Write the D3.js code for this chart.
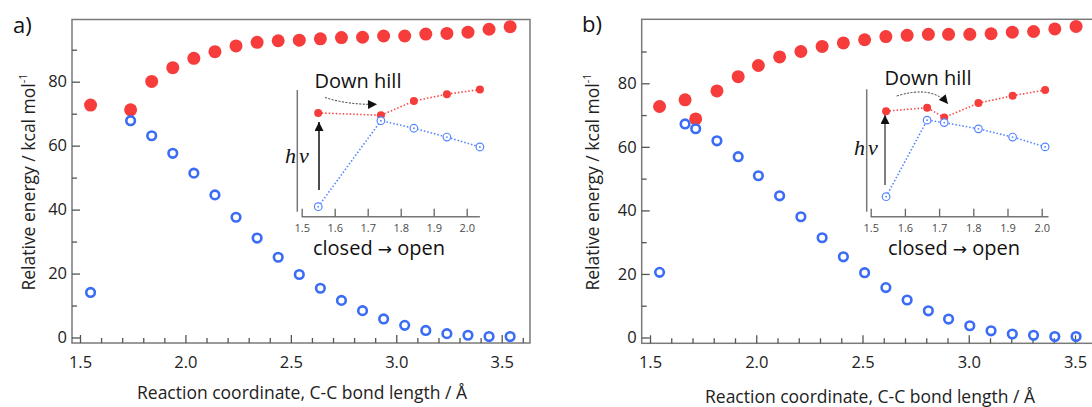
<!DOCTYPE html>
<html><head><meta charset="utf-8">
<script src="https://cdn.jsdelivr.net/npm/d3@7"></script>
<style>body{margin:0;background:#fff}svg{display:block}</style>
</head><body><svg id="c" width="1092" height="407"></svg>
<script>
// ---------- data ----------
const xA    = [1.55,1.74,1.84,1.94,2.04,2.14,2.24,2.34,2.44,2.54,2.64,2.74,2.84,2.94,3.04,3.14,3.24,3.34,3.44,3.54];
const redA  = [72.7,71.2,80.1,84.4,87.3,89.4,91.2,92.3,92.8,93.0,93.4,93.8,93.9,94.3,94.3,94.9,95.1,95.5,96.4,97.2];
const blueA = [14.1,67.8,63.1,57.6,51.4,44.6,37.6,31.1,25.1,19.7,15.4,11.6,8.4,5.8,3.8,2.2,1.2,0.7,0.3,0.3];
const xB    = [1.545,1.665,1.715,1.815,1.915,2.01,2.11,2.21,2.31,2.41,2.51,2.61,2.71,2.81,2.905,3.005,3.105,3.205,3.305,3.405,3.505];
const redB  = [72.7,74.8,68.8,77.6,82.1,85.6,88.3,90.0,91.6,92.7,93.7,94.7,95.1,95.4,95.4,95.4,95.6,96.1,96.3,97.1,97.9];
const blueB = [20.5,67.2,65.7,61.9,56.9,50.9,44.6,38.0,31.4,25.4,20.4,15.7,11.8,8.4,5.8,3.7,2.1,1.1,0.7,0.3,0.3];
const insetCountA = 5, insetCountB = 6;
const xMajor = [1.5,2.0,2.5,3.0,3.5];
const xMinor = [1.6,1.7,1.8,1.9,2.1,2.2,2.3,2.4,2.6,2.7,2.8,2.9,3.1,3.2,3.3,3.4,3.6];
const yMajor = [0,20,40,60,80];
const yMinor = [10,30,50,70,90];
const insetTicks = [1.5,1.6,1.7,1.8,1.9,2.0];
const panelLabels = ["a)","b)"];
const xTitle = "Reaction coordinate, C-C bond length / Å";
const yTitle = "Relative energy / kcal mol";
const yTitleSup = "-1";
const downHill = "Down hill";
const closedWord = "closed", openWord = "open", arrowChar = "→";

// ---------- drawing ----------
const svg = d3.select("#c");
const FONT = "'Open Sans','Noto Sans',sans-serif";
const RED = "#f73c3c", BLUE = "#3b6cf5", IRED = "#f64a4a", IBLUE = "#5585ff";
const defs = svg.append("defs");
defs.append("marker").attr("id","headK").attr("viewBox","0 0 10 10").attr("refX",10).attr("refY",5)
  .attr("markerWidth",10).attr("markerHeight",9).attr("markerUnits","userSpaceOnUse").attr("orient","auto")
  .append("path").attr("d","M0,0L10,5L0,10Z").attr("fill","#111");

function panel(c){
  const g = svg.append("g");
  const x = d3.scaleLinear().domain([1.5,3.5]).range(c.xr);
  const y = d3.scaleLinear().domain([0,80]).range(c.yr);
  const [fl,ft,fr,fb] = c.frame;
  g.append("rect").attr("x",fl).attr("y",ft).attr("width",fr-fl).attr("height",fb-ft)
   .attr("fill","none").attr("stroke","#7a7a7a").attr("stroke-width",1.5);

  const styleAxis = sel => { sel.select(".domain").remove();
    sel.selectAll("line").attr("stroke","#555").attr("stroke-width",1.3);
    sel.selectAll("text").attr("font-family",FONT).attr("font-size",16.5).attr("fill","#222"); };
  g.append("g").attr("transform",`translate(0,${fb})`)
   .call(d3.axisBottom(x).tickValues(xMajor).tickSize(-8).tickPadding(13).tickFormat(d3.format(".1f"))).call(styleAxis);
  g.append("g").attr("transform",`translate(0,${fb})`)
   .call(d3.axisBottom(x).tickValues(xMinor).tickSize(-5).tickFormat("")).call(styleAxis);
  g.append("g").attr("transform",`translate(${fl},0)`)
   .call(d3.axisLeft(y).tickValues(yMajor).tickSize(-8).tickPadding(5)).call(styleAxis);
  g.append("g").attr("transform",`translate(${fl},0)`)
   .call(d3.axisLeft(y).tickValues(yMinor).tickSize(-5).tickFormat("")).call(styleAxis);

  g.append("text").attr("x",c.xt[0]).attr("y",c.xt[1]).attr("text-anchor","middle")
   .attr("font-family",FONT).attr("font-size",17.5).attr("fill","#222").text(xTitle);
  const yt = g.append("text").attr("transform",`translate(${c.yt[0]},${c.yt[1]}) rotate(-90)`)
   .attr("text-anchor","middle").attr("font-family",FONT).attr("font-size",17.5).attr("fill","#222");
  yt.append("tspan").text(yTitle);
  yt.append("tspan").attr("dy",-8).attr("font-size",11).text(yTitleSup);
  g.append("text").attr("x",c.pl[0]).attr("y",c.pl[1]).attr("font-family",FONT).attr("font-size",22)
   .attr("fill","#111").text(c.label);

  const pts = c.xs.map((d,i)=>({x:d,r:c.red[i],b:c.blue[i]}));
  g.selectAll(".rd").data(pts).enter().append("circle").attr("cx",d=>x(d.x)).attr("cy",d=>y(d.r))
   .attr("r",6.5).attr("fill",RED);
  g.selectAll(".bd").data(pts).enter().append("circle").attr("cx",d=>x(d.x)).attr("cy",d=>y(d.b))
   .attr("r",4.3).attr("fill","none").attr("stroke",BLUE).attr("stroke-width",2.6);

  // inset
  const I = c.inset;
  const xi = d3.scaleLinear().domain([1.5,2.0]).range(I.xr);
  const yi = d3.scaleLinear().domain(I.yd).range([216.7,90]);
  const ip = pts.slice(0,I.n);
  g.append("line").attr("x1",I.yLineX).attr("x2",I.yLineX).attr("y1",I.yLine[0]).attr("y2",I.yLine[1])
   .attr("stroke","#777").attr("stroke-width",1.5);
  g.append("line").attr("x1",xi(1.5)).attr("x2",xi(I.xEnd)).attr("y1",216.7).attr("y2",216.7)
   .attr("stroke","#777").attr("stroke-width",1.5);
  const ia = g.append("g").attr("transform","translate(0,216.7)")
   .call(d3.axisBottom(xi).tickValues(insetTicks).tickSize(-8).tickPadding(8).tickFormat(d3.format(".1f")));
  ia.select(".domain").remove();
  ia.selectAll("line").attr("stroke","#666").attr("stroke-width",1.3);
  ia.selectAll("text").attr("font-family",FONT).attr("font-size",11).attr("fill","#4a4a4a");

  g.append("path").datum(ip).attr("d",d3.line().x(d=>xi(d.x)).y(d=>yi(d.r)))
   .attr("fill","none").attr("stroke",IRED).attr("stroke-width",1.6).attr("stroke-dasharray","1.5,2");
  g.append("path").datum(ip).attr("d",d3.line().x(d=>xi(d.x)).y(d=>yi(d.b)))
   .attr("fill","none").attr("stroke",IBLUE).attr("stroke-width",1.6).attr("stroke-dasharray","1.5,2");
  g.selectAll(".ir").data(ip).enter().append("circle").attr("cx",d=>xi(d.x)).attr("cy",d=>yi(d.r))
   .attr("r",4).attr("fill",RED);
  g.selectAll(".ib").data(ip).enter().append("circle").attr("cx",d=>xi(d.x)).attr("cy",d=>yi(d.b))
   .attr("r",3.8).attr("fill","#fff").attr("stroke",IBLUE).attr("stroke-width",1.2);
  g.selectAll(".ic").data(ip).enter().append("circle").attr("cx",d=>xi(d.x)).attr("cy",d=>yi(d.b))
   .attr("r",0.9).attr("fill",IBLUE);

  g.append("text").attr("x",I.dh[0]).attr("y",I.dh[1]).attr("text-anchor","middle")
   .attr("font-family",FONT).attr("font-size",20).attr("fill","#111").text(downHill);
  const co = g.append("text").attr("x",I.co[0]).attr("y",I.co[1]).attr("text-anchor","middle")
   .attr("font-family",FONT).attr("font-size",20).attr("fill","#111");
  co.append("tspan").text(closedWord + " ");
  co.append("tspan").attr("font-family","'DejaVu Sans',sans-serif").attr("font-size",17).text(arrowChar);
  co.append("tspan").text(" " + openWord);
  const hv = g.append("text").attr("x",I.hv[0]).attr("y",I.hv[1])
   .attr("font-family","'Liberation Serif','DejaVu Serif',serif").attr("font-style","italic")
   .attr("font-size",22).attr("fill","#111");
  hv.append("tspan").text("h");
  hv.append("tspan").attr("dx",3).text("ν");
  g.append("line").attr("x1",I.up[0]).attr("x2",I.up[0]).attr("y1",I.up[1]).attr("y2",I.up[2])
   .attr("stroke",I.upColor).attr("stroke-width",1.5).attr("marker-end","url(#headK)");
  g.append("path").attr("d",I.curve).attr("fill","none").attr("stroke","#333").attr("stroke-width",1)
   .attr("stroke-dasharray","2,1.5").attr("marker-end","url(#headK)");
}

panel({label:panelLabels[0], pl:[13,33], xs:xA, red:redA, blue:blueA,
  xr:[80,501.7], yr:[337.5,81.7], frame:[72,19.5,530,343], xt:[302,399], yt:[35,182],
  inset:{n:insetCountA, xr:[301.7,466.7], yd:[7.84,87.0], yLineX:297.3, yLine:[90,211.7], xEnd:2.04,
    dh:[358,88], co:[379,255], hv:[285,163], up:[319,190,122], upColor:"#111",
    curve:"M325,97.5 Q348,105 377,104.3"}});
panel({label:panelLabels[1], pl:[582,32], xs:xB, red:redB, blue:blueB,
  xr:[650,1075], yr:[337.5,83.3], frame:[641.7,19.3,1101,343.3], xt:[870,403], yt:[598.5,182],
  inset:{n:insetCountB, xr:[870.7,1041.7], yd:[8.3,85.6], yLineX:866.7, yLine:[89.3,211.7], xEnd:2.02,
    dh:[928,85], co:[954,255], hv:[854,155], up:[885,185,115], upColor:"#555",
    curve:"M896.7,96 Q932,85 948,104"}});
</script></body></html>
